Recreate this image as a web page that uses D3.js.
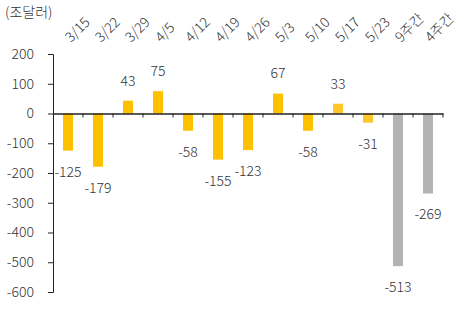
<!DOCTYPE html>
<html><head><meta charset="utf-8">
<script src="https://cdn.jsdelivr.net/npm/d3@7"></script>
<style>
body{margin:0;background:#fff;}
text{font-family:"Noto Sans CJK KR","Noto Sans",sans-serif;fill:#333;font-weight:300;}
</style></head>
<body><svg id="c" width="457" height="325"></svg>
<script>
const categories = ["3/15","3/22","3/29","4/5","4/12","4/19","4/26","5/3","5/10","5/17","5/23","9주간","4주간"];
const values = [-125,-179,43,75,-58,-155,-123,67,-58,33,-31,-513,-269];
const colors = ["#ffc000","#ffc000","#ffc000","#ffc000","#ffc000","#ffc000","#ffc000","#ffc000","#ffc000","#ffc72c","#ffc72c","#b3b3b3","#b3b3b3"];
const yTicks = [200,100,0,-100,-200,-300,-400,-500,-600];
const unit = "(조달러)";

const svg = d3.select("#c");
const x = d3.scaleBand().domain(categories).range([53,443]).paddingInner(0).paddingOuter(0);
const y = d3.scaleLinear().domain([-600,200]).range([292,54]);
const bw = 10;
const FF = '"Noto Sans CJK KR","Noto Sans",sans-serif';

svg.selectAll("rect.bar").data(categories).join("rect")
  .attr("x", (d)=>x(d)+x.bandwidth()/2-bw/2)
  .attr("width", bw)
  .attr("y", (d,i)=>y(Math.max(0,values[i])))
  .attr("height", (d,i)=>Math.abs(y(values[i])-y(0)))
  .attr("fill", (d,i)=>colors[i]);

const ya = svg.append("g").attr("transform","translate(53,0)")
  .call(d3.axisLeft(y).tickValues(yTicks).tickSize(5).tickPadding(14).tickFormat(d=>String(d)));
ya.select(".domain").attr("stroke","#222");
ya.selectAll(".tick line").attr("stroke","#222");
ya.selectAll("text").attr("font-size",14).attr("fill","#333").style("font-family",FF).style("font-weight",300);

const xa = svg.append("g").attr("transform",`translate(0,${y(0)})`)
  .call(d3.axisBottom(x).tickSize(0).tickFormat(""));
xa.select(".domain").attr("stroke","#222").attr("stroke-width",1.5);
xa.selectAll(".tick").remove();
const bounds = categories.map(c=>x(c)).concat([x(categories[categories.length-1])+x.bandwidth()]).slice(1);
xa.selectAll("line.tk").data(bounds).join("line")
  .attr("x1",d=>d).attr("x2",d=>d).attr("y1",0).attr("y2",4).attr("stroke","#222");

svg.selectAll("text.cat").data(categories).join("text")
  .attr("class","cat")
  .attr("transform", d=>`translate(${x(d)+x.bandwidth()/2+3},43) rotate(-45)`)
  .attr("font-size",14)
  .attr("text-anchor","start")
  .text(d=>d);

svg.selectAll("text.val").data(categories).join("text")
  .attr("class","val")
  .attr("x", d=>x(d)+x.bandwidth()/2)
  .attr("y", (d,i)=> values[i]>=0 ? y(values[i])-20 : y(values[i])+21)
  .attr("dy","0.35em")
  .attr("text-anchor","middle")
  .attr("font-size",14)
  .text((d,i)=>String(values[i]));

svg.append("text").attr("x",5).attr("y",17).attr("font-size",14).text(unit);
</script></body></html>
